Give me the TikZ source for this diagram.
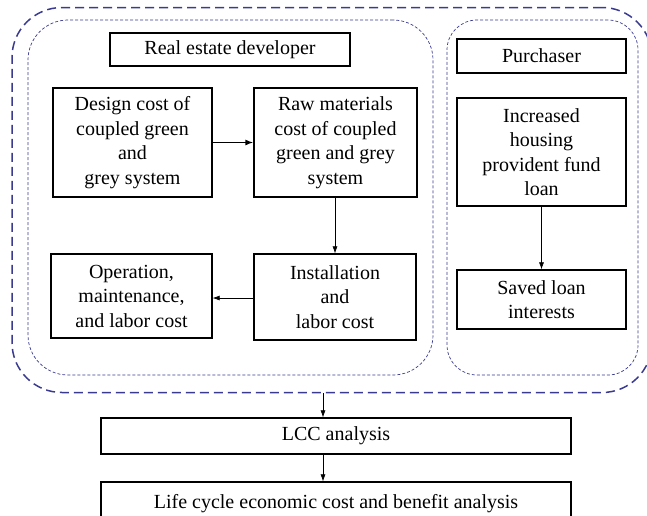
\documentclass[tikz,border=0pt]{standalone}
\usepackage{fontspec}
\setmainfont{Liberation Serif}
\usetikzlibrary{arrows.meta}
\definecolor{grpblue}{RGB}{58,58,145}
\begin{document}
\begin{tikzpicture}[x=1pt,y=-1pt,
  box/.style={draw, line width=1.3pt, rectangle, align=center, inner sep=0pt,
    font=\fontsize{20}{24.5}\selectfont},
  outerbox/.style={draw=grpblue, line width=1.5pt, dash pattern=on 9pt off 5pt,
    rounded corners=50pt, inner sep=0pt},
  innerbox/.style={draw=grpblue, line width=0.7pt, dash pattern=on 3pt off 2pt,
    rounded corners=40pt, inner sep=0pt},
  arr/.style={-{Latex[length=7pt,width=5pt]}, line width=0.6pt},
  thickarr/.style={-{Latex[length=8pt,width=6pt]}, line width=1.3pt}]
\useasboundingbox (0,0) rectangle (647,515);
% groups
\node[outerbox, minimum width=640pt, minimum height=385pt] (outer) at (332,200) {};
\node[innerbox, minimum width=405pt, minimum height=355pt] (devgrp) at (230.5,197.5) {};
\node[innerbox, rounded corners=30pt, minimum width=191pt, minimum height=355pt] (purgrp) at (542.5,197.5) {};
% boxes
\node[box, minimum width=240pt, minimum height=33pt] (red) at (230,49.5) {Real estate developer};
\node[box, minimum width=169pt, minimum height=34pt] (pur) at (541.5,56) {Purchaser};
\node[box, minimum width=159pt, minimum height=109pt] (design) at (132.5,142.5) {Design cost of\\coupled green\\and\\grey system};
\node[box, minimum width=163pt, minimum height=109pt] (raw) at (335.5,142.5) {Raw materials\\cost of coupled\\green and grey\\system};
\node[box, minimum width=161pt, minimum height=84pt] (oper) at (131.5,296) {Operation,\\maintenance,\\and labor cost};
\node[box, minimum width=162pt, minimum height=86pt] (inst) at (335,297) {Installation\\and\\labor cost};
\node[box, minimum width=169pt, minimum height=108pt] (incr) at (541.5,152) {Increased\\housing\\provident fund\\loan};
\node[box, minimum width=169pt, minimum height=59pt] (saved) at (541.5,299.5) {Saved loan\\interests};
\node[box, minimum width=470pt, minimum height=36pt] (lcc) at (336,436) {LCC analysis};
\node[box, minimum width=470pt, minimum height=44pt] (life) at (336,504) {Life cycle economic cost and benefit analysis};
% connectors
\draw[thickarr] (design.east) -- (raw.west);
\coordinate (rx) at (335,0);
\draw[arr] (raw.south -| rx) -- (inst.north -| rx);
\coordinate (iy) at (0,298);
\draw[arr] (inst.west |- iy) -- (oper.east |- iy);
\draw[arr] (incr.south) -- (saved.north);
\coordinate (ox) at (323,0);
\draw[arr] (outer.south -| ox) -- (lcc.north -| ox);
\draw[arr] (lcc.south -| ox) -- (life.north -| ox);
\end{tikzpicture}
\end{document}
